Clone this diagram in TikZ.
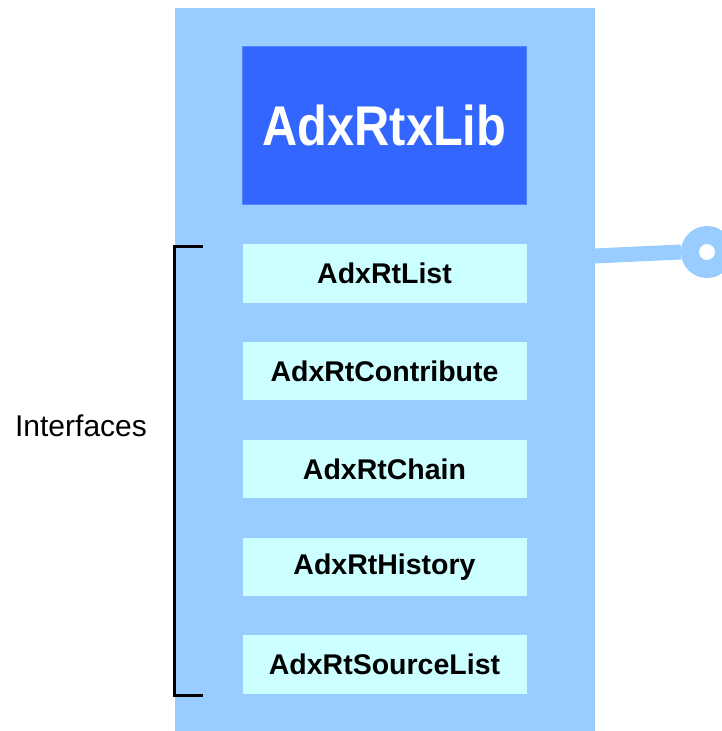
\documentclass[tikz,border=0pt]{standalone}
\usepackage{fontspec}
\setmainfont{Liberation Sans}
\newfontfamily\titlefont[FakeStretch=0.87]{Liberation Sans}
\usepackage{tikz}
\usetikzlibrary{positioning}
\definecolor{libblue}{HTML}{99CCFF}
\definecolor{headblue}{HTML}{3366FF}
\definecolor{ifcyan}{HTML}{CCFFFF}

\begin{document}
\begin{tikzpicture}[
    x=1pt,y=-1pt,
    node distance=39pt,
    libbox/.style={rectangle,fill=libblue,inner sep=0pt,
      minimum width=420pt,minimum height=723pt},
    head/.style={rectangle,fill=headblue,draw=headblue!70!libblue,line width=0.8pt,
      inner sep=0pt,minimum width=284pt,minimum height=158pt,text=white,
      font=\titlefont\bfseries\fontsize{56}{60}\selectfont},
    iface/.style={rectangle,fill=ifcyan,inner sep=0pt,minimum width=284pt,
      minimum height=58.4pt,font=\bfseries\fontsize{28.5}{32}\selectfont},
    wire/.style={libblue,line width=15pt},
    port/.style={circle,draw=libblue,line width=18pt,fill=white,
      inner sep=0pt,minimum size=34pt},
    brace/.style={black,line width=3pt}]
    \useasboundingbox (0,0) rectangle (722,731);
    \node[libbox] (lib) at (385,369.5) {};
    \node[head] (rtxlib) at (384.5,125.5) {AdxRtxLib};
    \node[iface,below=of rtxlib] (list) {AdxRtList};
    \node[iface,below=of list] (contrib) {AdxRtContribute};
    \node[iface,below=of contrib] (chain) {AdxRtChain};
    \node[iface,below=of chain] (history) {AdxRtHistory};
    \node[iface,below=of history] (srclist) {AdxRtSourceList};
    % lollipop on the right
    \coordinate (stub) at (594,256);
    \node[port] (rtport) at (707,252) {};
    \draw[wire] (stub) -- (rtport.west);
    % bracket round the interfaces
    \draw[brace] (203,246) -- (174,246) -- (174,695) -- (203,695);
    \node[font=\fontsize{30}{34}\selectfont] (ifaces) at (81,426) {Interfaces};
  \end{tikzpicture}
\end{document}
